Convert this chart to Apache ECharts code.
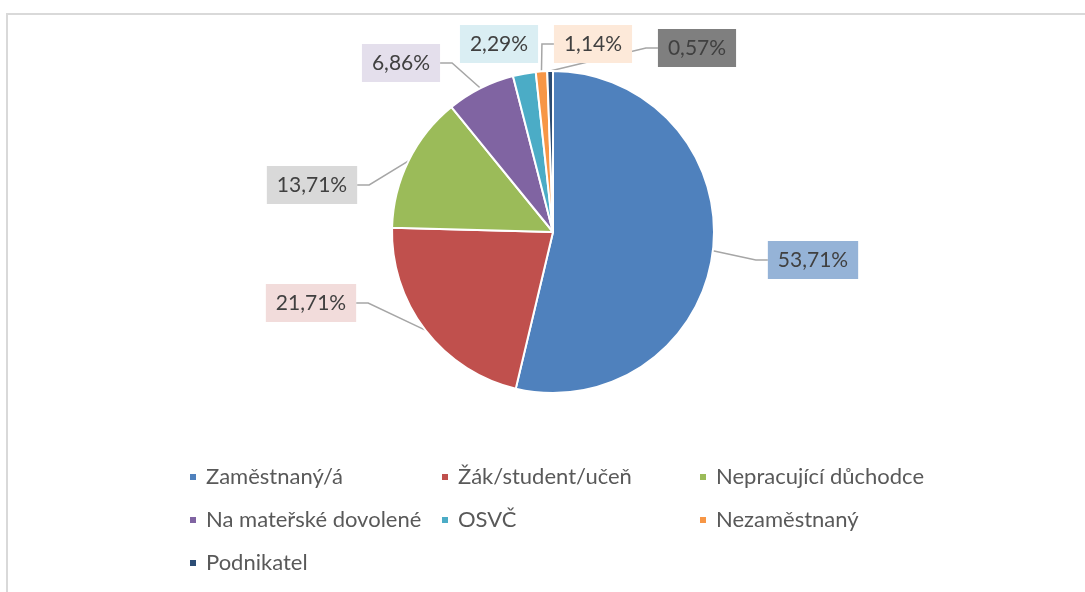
<!DOCTYPE html>
<html><head><meta charset="utf-8">
<script src="https://cdn.jsdelivr.net/npm/echarts@6/dist/echarts.min.js"></script>
<style>html,body{margin:0;padding:0;background:#fff}#c{width:1085px;height:592px}</style>
</head><body><div id="c"></div>
<script>
const categories = ['Zaměstnaný/á','Žák/student/učeň','Nepracující důchodce','Na mateřské dovolené','OSVČ','Nezaměstnaný','Podnikatel'];
const percentages = [53.71,21.71,13.71,6.86,2.29,1.14,0.57];

const sliceColors = ['#4F81BD','#C0504D','#9BBB59','#8064A2','#4BACC6','#F79646','#2C4D75'];
const labelBoxColors = ['#95B3D7','#F2DCDB','#D9D9D9','#E4DFEC','#DAEEF3','#FDE9D9','#7F7F7F'];
const showLeader = [true,true,true,true,false,true,true];
// label box centres (layout, not data)
const labelCentres = [[813,260],[311,303],[312,185],[401,63],[499,44],[593,44],[697,48]];

const legendColumns = [
  {left:188, names:[categories[0],categories[3],categories[6]]},
  {left:440, names:[categories[1],categories[4]]},
  {left:698, names:[categories[2],categories[5]]}
];

const chart = echarts.init(document.getElementById('c'), null, {renderer:'canvas'});
const font = 'Lato, "Open Sans", sans-serif';
chart.setOption({
  animation:false,
  backgroundColor:'#fff',
  color: sliceColors,
  graphic:[{type:'rect', shape:{x:7,y:14,width:1200,height:700}, style:{fill:null, stroke:'#D9D9D9', lineWidth:2}, silent:true}],
  legend: legendColumns.map(c => ({
    orient:'vertical', left:c.left, top:466, padding:0, itemGap:21,
    itemWidth:8, itemHeight:8, icon:'rect', data:c.names,
    selectedMode:false,
    textStyle:{fontFamily:font, fontSize:22, color:'#595959', lineHeight:22, padding:[0,0,0,4]}
  })),
  series:[{
    type:'pie', center:[553,232], radius:161, startAngle:90, clockwise:true,
    avoidLabelOverlap:false,
    itemStyle:{borderColor:'#fff', borderWidth:2},
    data: categories.map((n,i)=>({name:n, value:percentages[i],
      label:{backgroundColor:labelBoxColors[i]},
      labelLine:{show:showLeader[i]}})),
    label:{
      show:true, position:'outside',
      formatter: p => p.value.toFixed(2).replace('.',',') + '%',
      fontFamily:font, fontSize:21, color:'#404040',
      padding:[9,10,8,10]
    },
    labelLine:{show:true, length:15, length2:12, lineStyle:{color:'#A6A6A6', width:1.5}},
    labelLayout: function(params){
      const c = labelCentres[params.dataIndex];
      return {x:c[0], y:c[1], align:'center', verticalAlign:'middle'};
    },
    emphasis:{disabled:true}
  }]
});
</script></body></html>
